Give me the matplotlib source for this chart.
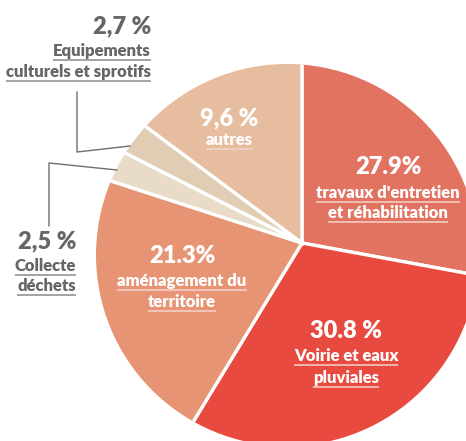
import matplotlib
matplotlib.use("Agg")
import matplotlib.pyplot as plt

W, H = 466, 441

# wedge shares as drawn (the "autres" wedge fills the rest of the disc)
shares = [27.9, 30.8, 21.3, 2.5, 2.7, 14.8]
pct_text = ["27.9%", "30.8 %", "21.3%", "2,5 %", "2,7 %", "9,6 %"]
names = [
    ["travaux d'entretien", "et réhabilitation"],
    ["Voirie et eaux", "pluviales"],
    ["aménagement du", "territoire"],
    ["Collecte", "déchets"],
    ["Equipements", "culturels et sprotifs"],
    ["autres"],
]
colors = ["#E27361", "#E84A40", "#E79475", "#E8DBC8", "#E1CDB3", "#E7BD9F"]

# label placement in pixels (y measured from the top): x, ha, y of pct, y of lines
label_pos = [
    (388, "center", 167, [193, 213]),
    (346, "center", 331, [356, 378]),
    (182, "center", 256, [281, 302]),
    (76, "right", 241, [266, 286]),
    (151, "right", 26, [51, 72]),
    (229, "center", 118, [140]),
]
inside = [True, True, True, False, False, True]

plt.rcParams["font.family"] = ["Lato", "DejaVu Sans"]

fig = plt.figure(figsize=(W / 100, H / 100), dpi=100)
ax = fig.add_axes([0, 0, 1, 1])

apex = (302, H - 243)
wedges, _ = ax.pie(shares, colors=colors, startangle=90, counterclock=False,
                   center=apex, radius=260,
                   wedgeprops=dict(edgecolor="white", linewidth=2.4))
# outer outline is a disc that is not centred on the apex
disc = plt.Circle((287, H - 255), 191, transform=ax.transData)
for w in wedges:
    w.set_clip_on(True)
    w.set_clip_path(disc)

ax.set_xlim(0, W)
ax.set_ylim(0, H)
ax.set_aspect("equal")
ax.axis("off")

grey = "#666666"
lines = []
for (x, ha, yp, ys), pct, nm, ins in zip(label_pos, pct_text, names, inside):
    c = "white" if ins else grey
    ax.text(x, H - yp, pct, ha=ha, va="center", fontsize=17,
            fontweight="heavy", color=c)
    for y, s in zip(ys, nm):
        t = ax.text(x, H - y, s, ha=ha, va="center", fontsize=12,
                    fontweight="heavy", color=c)
        lines.append((t, "#F4D3CC" if ins else "#8a8a8a"))

# leader lines for the two thin slices
lc = "#6f6f6f"
ax.plot([77, 77, 130], [H - 92, H - 152, H - 146], color=lc, lw=1)
ax.plot([49, 49, 117], [H - 226, H - 163, H - 170], color=lc, lw=1)

# underline every label line
fig.canvas.draw()
inv = ax.transData.inverted()
for t, c in lines:
    bb = t.get_window_extent()
    (x0, y0), (x1, _) = inv.transform([[bb.x0, bb.y0], [bb.x1, bb.y1]])
    ax.plot([x0, x1], [y0 - 1, y0 - 1], color=c, lw=1.1,
            solid_capstyle="butt")

fig.savefig("out.png", dpi=100)
